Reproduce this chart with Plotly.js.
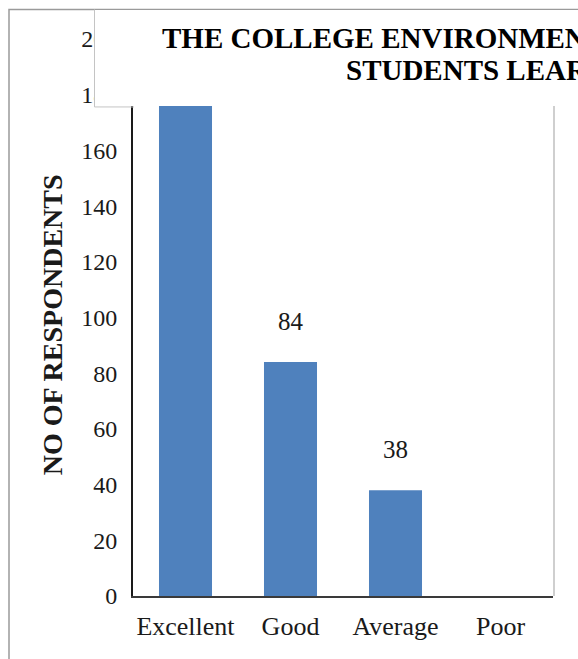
<!DOCTYPE html>
<html>
<head>
<meta charset="utf-8">
<script src="https://cdn.plot.ly/plotly-3.0.1.min.js"></script>
<style>html,body{margin:0;padding:0;background:#fff;}#chart{width:578px;height:659px;}</style>
</head>
<body>
<div id="chart"></div>
<script>
// ---- data ----
const categories = ['Excellent', 'Good', 'Average', 'Poor'];
const respondents = [178, 84, 38, 0];
const yTickVals = [0, 20, 40, 60, 80, 100, 120, 140, 160, 180, 200];
const titleLine1 = 'THE COLLEGE ENVIRONMENT ENHANCES';
const titleLine2 = 'STUDENTS LEARNING';
const yTitle = 'NO OF RESPONDENTS';

// ---- layout helpers (pixel -> paper) ----
const W = 578, H = 659, L = 133, R = 25, T = 38.5, B = 63;
const pw = W - L - R, ph = H - T - B;
const px2x = p => (p - L) / pw;
const px2y = p => (H - B - p) / ph;

const serif = 'Liberation Serif, Times New Roman, serif';

const labelAnnotations = categories
  .map((c, i) => ({c, v: respondents[i]}))
  .filter(d => d.v > 0)
  .map(d => ({
    x: d.c, y: d.v, xref: 'x', yref: 'y',
    text: String(d.v), showarrow: false,
    yanchor: 'middle', yshift: 41,
    font: {family: serif, size: 25, color: '#1a1a1a'}
  }));

const trace = {
  type: 'bar',
  x: categories,
  y: respondents,
  marker: {color: '#4f81bd'},
  hoverinfo: 'none'
};

const layout = {
  width: W, height: H,
  margin: {l: L, r: R, t: T, b: B, pad: 0},
  paper_bgcolor: '#ffffff',
  plot_bgcolor: '#ffffff',
  showlegend: false,
  bargap: 0.495,
  font: {family: serif, color: '#1a1a1a'},
  xaxis: {
    type: 'category',
    showgrid: false, zeroline: false,
    showline: true, linecolor: '#3a3a3a', linewidth: 2,
    ticks: '', ticklabelstandoff: 6,
    tickfont: {family: serif, size: 26, color: '#1a1a1a'},
    fixedrange: true
  },
  yaxis: {
    range: [0, 200], autorange: false,
    tickmode: 'array', tickvals: yTickVals,
    showgrid: false, zeroline: false,
    showline: true, linecolor: '#1a1a1a', linewidth: 2,
    ticks: '', ticklabelstandoff: 9,
    tickfont: {family: serif, size: 24, color: '#1a1a1a'},
    fixedrange: true
  },
  shapes: [
    {type: 'rect', xref: 'paper', yref: 'paper', layer: 'below',
     x0: px2x(9), x1: px2x(900), y0: px2y(9), y1: px2y(900),
     line: {color: '#9a9a9a', width: 1.5}, fillcolor: 'rgba(0,0,0,0)'},
    {type: 'line', xref: 'paper', yref: 'paper', layer: 'above',
     x0: px2x(554), x1: px2x(554), y0: px2y(105), y1: px2y(596),
     line: {color: '#cfcfcf', width: 2}},
    // visible edges of the title box
    {type: 'path', xref: 'paper', yref: 'paper', layer: 'above',
     path: 'M' + px2x(94.5) + ',' + px2y(9) + ' L' + px2x(94.5) + ',' + px2y(106.5) +
           ' L' + px2x(134) + ',' + px2y(106.5),
     line: {color: '#c4c4c4', width: 1}},
    {type: 'line', xref: 'paper', yref: 'paper', layer: 'above',
     x0: px2x(553), x1: px2x(600), y0: px2y(104.5), y1: px2y(104.5),
     line: {color: '#d4d4d4', width: 1}}
  ],
  annotations: labelAnnotations.concat([
    {xref: 'paper', yref: 'paper', x: px2x(95), y: px2y(106),
     xanchor: 'left', yanchor: 'bottom', showarrow: false,
     text: ' ', width: 700, height: 96, borderpad: 0,
     bgcolor: '#ffffff', borderwidth: 0},
    {xref: 'paper', yref: 'paper', x: px2x(160), y: px2y(37),
     xanchor: 'left', yanchor: 'middle', showarrow: false,
     text: '<b>' + titleLine1 + '</b>',
     font: {family: serif, size: 29, color: '#000000'}},
    {xref: 'paper', yref: 'paper', x: px2x(344), y: px2y(70),
     xanchor: 'left', yanchor: 'middle', showarrow: false,
     text: '<b>' + titleLine2 + '</b>',
     font: {family: serif, size: 29, color: '#000000'}},
    {xref: 'paper', yref: 'paper', x: px2x(52), y: px2y(325),
     xanchor: 'center', yanchor: 'middle', showarrow: false, textangle: -90,
     text: '<b>' + yTitle + '</b>',
     font: {family: serif, size: 28, color: '#1a1a1a'}}
  ])
};

Plotly.newPlot('chart', [trace], layout, {displayModeBar: false, staticPlot: true});
</script>
</body>
</html>
